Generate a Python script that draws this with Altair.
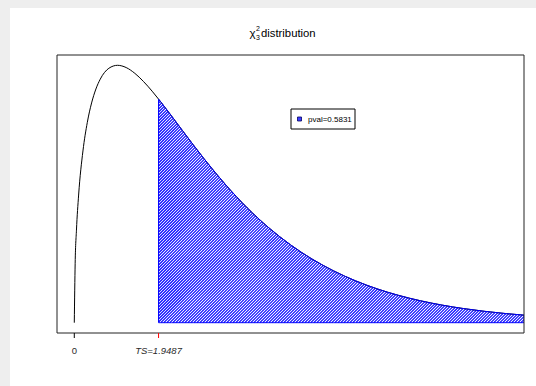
import altair as alt
import numpy as np
import pandas as pd

# Chi-squared (3 df) density, tabulated
x_vals = [0, 0.02, 0.05, 0.1, 0.2, 0.3, 0.4, 0.5, 0.6, 0.8, 1.0, 1.2, 1.4, 1.6, 1.8,
          1.9487, 2.0, 2.25, 2.5, 2.75, 3.0, 3.5, 4.0, 4.5, 5.0, 5.5, 6.0, 6.5, 7.0,
          7.5, 8.0, 8.5, 9.0, 9.5, 10.0, 10.4]
density = [0, 0.05586, 0.08701, 0.12001, 0.16144, 0.18808, 0.20658, 0.21970, 0.22893,
           0.23919, 0.24197, 0.23985, 0.23441, 0.22675, 0.21762, 0.21020, 0.20756,
           0.19428, 0.18072, 0.16728, 0.15418, 0.12970, 0.10798, 0.08920, 0.07322,
           0.05981, 0.04865, 0.03944, 0.03187, 0.02570, 0.02067, 0.01659, 0.01330,
           0.01064, 0.00850, 0.00710]

test_stat = 1.9487
p_value = 0.5831
tick_values = [0, test_stat]
tick_labels = ["0", "TS=1.9487"]
tick_colors = ["black", "red"]
tick_styles = ["normal", "italic"]

W, H = 467, 278
x_dom = [-0.4, 10.4]
y_dom = [-0.00968, 0.25165]

curve = pd.DataFrame({"x": x_vals, "d": density})
curve["zero"] = 0.0
curve["top"] = y_dom[1]
tail = curve[curve["x"] >= test_stat]

xs = alt.Scale(domain=x_dom, nice=False, zero=False)
ys = alt.Scale(domain=y_dom, nice=False, zero=False)
X = lambda f: alt.X(f, type="quantitative", scale=xs, axis=None)
Y = lambda f: alt.Y(f, type="quantitative", scale=ys, axis=None)

# "/" hatching lines under the tail, built in pixel space then mapped to data units
sx = W / (x_dom[1] - x_dom[0])
sy = H / (y_dom[1] - y_dom[0])
u_lo = (test_stat - x_dom[0]) * sx
u_hi = W
v_lo = (0 - y_dom[0]) * sy
u_grid = np.linspace(u_lo, u_hi, 2000)
v_curve = (np.interp(x_dom[0] + u_grid / sx, x_vals, density) - y_dom[0]) * sy
rows = []
for c in np.arange(u_lo - H - 3, u_hi, 3.0):
    a = max(u_lo, c + v_lo)
    inside = (u_grid >= a) & ((u_grid - c) <= v_curve)
    if not inside.any():
        continue
    b = u_grid[inside].max()
    if a < b:
        rows.append({"x": x_dom[0] + a / sx, "y": y_dom[0] + (a - c) / sy,
                     "x2": x_dom[0] + b / sx, "y2": y_dom[0] + (b - c) / sy})
hatch = pd.DataFrame(rows)

one = pd.DataFrame({"k": [0]})

panel = alt.Chart(one).mark_rect(fill="white", clip=False).encode(
    x=alt.value(-47), x2=alt.value(479), y=alt.value(-47), y2=alt.value(331))

hatch_layer = alt.Chart(hatch).mark_rule(color="#0000ff", strokeWidth=1.1, clip=True).encode(
    x=X("x"), y=Y("y"), x2="x2", y2="y2")

mask = alt.Chart(tail).mark_area(fill="white", interpolate="monotone", clip=True).encode(
    x=X("x"), y=Y("d"), y2="top")

line = alt.Chart(curve).mark_line(color="black", strokeWidth=1, interpolate="monotone", clip=True).encode(
    x=X("x"), y=Y("d"))

outline = alt.Chart(tail).mark_area(fillOpacity=0, stroke="#0000ff", strokeWidth=1,
                                    interpolate="monotone", clip=True).encode(
    x=X("x"), y=Y("d"), y2="zero")

# plot frame
frame = alt.Chart(one).mark_rect(fill="transparent", stroke="#222222", strokeWidth=1).encode(
    x=alt.value(0), x2=alt.value(W), y=alt.value(0), y2=alt.value(H))

# x ticks and labels
ticks = pd.DataFrame({"v": tick_values, "lab": tick_labels, "col": tick_colors, "sty": tick_styles})
tick_marks = alt.Chart(ticks).mark_rule(strokeWidth=1, clip=False).encode(
    x=X("v"), y=alt.value(H), y2=alt.value(H + 5),
    color=alt.Color("col:N", scale=None))
tick_text = alt.layer(*[
    alt.Chart(ticks.iloc[[i]]).mark_text(
        align="center", baseline="middle", font="Liberation Sans", fontSize=9.5,
        fontStyle=tick_styles[i], color="#2a2a2a", clip=False).encode(
        x=X("v"), y=alt.value(H + 18), text="lab:N")
    for i in range(len(tick_values))
])

# legend box
leg_box = alt.Chart(one).mark_rect(fill="white", stroke="black", strokeWidth=1).encode(
    x=alt.value(234), x2=alt.value(298), y=alt.value(54), y2=alt.value(74))
leg_key = alt.Chart(one).mark_rect(fill="#3c3cff", stroke="#000060", strokeWidth=0.8).encode(
    x=alt.value(240.5), x2=alt.value(244.5), y=alt.value(62), y2=alt.value(66))
leg_text = alt.Chart(pd.DataFrame({"t": ["pval=%.4f" % p_value]})).mark_text(
    align="left", baseline="middle", font="Liberation Sans", fontSize=8, color="black").encode(
    x=alt.value(251), y=alt.value(64.5), text="t:N")

# title: chi with stacked super/subscript
def ttext(s, x, y, size):
    return alt.Chart(pd.DataFrame({"t": [s]})).mark_text(
        align="left", baseline="alphabetic", font="Liberation Sans", fontSize=size, color="black").encode(
        x=alt.value(x), y=alt.value(y), text="t:N")

title = (ttext("χ", 192.5, -18.5, 11.5) + ttext("2", 199, -24.5, 7) +
         ttext("3", 199, -15.5, 7) + ttext("distribution", 204, -18, 11.3))

chart = alt.layer(panel, hatch_layer, mask, line, outline, frame, tick_marks, tick_text,
                  leg_box, leg_key, leg_text, title).properties(
    width=W, height=H, background="#eeeeee",
    padding={"left": 57, "top": 55, "right": 12, "bottom": 53},
    autosize=alt.AutoSizeParams(type="none"),
).configure_view(stroke=None)

chart.save("out.html", embed_options={"renderer": "svg", "actions": False})
